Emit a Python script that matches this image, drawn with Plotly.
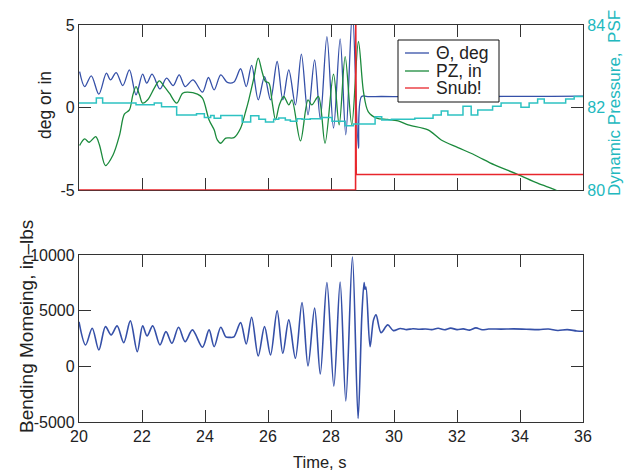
import plotly.graph_objects as go

# ---------------- data ----------------
theta_t = [20.02, 20.18, 20.39, 20.63, 20.87, 21.00, 21.18, 21.39, 21.60, 21.81, 22.02, 22.15, 22.32, 22.57,
           22.78, 22.99, 23.18, 23.37, 23.62, 23.92, 24.11, 24.29, 24.50, 24.71, 24.92, 25.13, 25.31, 25.48,
           25.69, 25.89, 26.08, 26.29, 26.47, 26.66, 26.87, 27.06, 27.27, 27.48, 27.66, 27.87, 28.08, 28.29,
           28.47, 28.68, 28.87, 28.97, 29.20, 29.6, 30.2, 31.0, 32.0, 33.0, 34.0, 35.0, 36.0]
theta_v = [2.18, 1.27, 1.92, 0.81, 2.08, 1.68, 2.12, 1.33, 2.28, 0.77, 2.02, 1.48, 2.02, 1.13,
           1.78, 1.33, 1.98, 1.27, 1.68, 0.93, 1.82, 1.07, 1.98, 1.52, 1.55, 2.35, 1.27, 2.55,
           0.47, 1.88, 0.47, 2.79, 0.47, 2.28, 0.16, 3.24, -0.44, 2.89, -0.68, 4.30, -1.25, 4.16,
           -1.65, 5.8, -2.46, 0.67, 0.66, 0.67, 0.66, 0.67, 0.68, 0.67, 0.68, 0.68, 0.69]

pz_t = [20.02, 20.18, 20.32, 20.53, 20.65, 20.84, 21.08, 21.29, 21.44, 21.60, 21.71, 21.81, 21.92, 22.02,
        22.18, 22.39, 22.55, 22.71, 22.87, 23.10, 23.29, 23.44, 23.76, 23.92, 24.13, 24.29, 24.39, 24.50,
        24.66, 24.92, 25.13, 25.29, 25.39, 25.55, 25.69, 25.81, 25.92, 26.03, 26.13, 26.24, 26.36, 26.50,
        26.66, 26.76, 27.03, 27.27, 27.39, 27.60, 27.81, 28.08, 28.26, 28.45, 28.66, 28.87, 29.03, 29.18,
        29.45, 29.8, 30.13, 30.45, 31.08, 31.50, 32.03, 32.56, 33.19, 33.92, 34.56, 35.13, 35.6]
pz_v = [-2.30, -1.90, -2.10, -1.76, -2.26, -3.51, -2.87, -1.65, -0.40, -0.14, 0.77, 1.27, 0.77, 0.27,
        0.47, 1.18, 1.62, 1.27, 0.87, 0.27, 0.87, 0.93, 0.81, 0.57, -0.75, -1.35, -1.96, -2.16,
        -1.85, -1.82, -1.25, -0.24, 0.47, 1.78, 2.99, 2.18, 1.58, 1.48, 0.36, -0.75, 0.16, 0.67,
        0.16, 0.47, -2.02, 0.47, 0.16, 0.67, -2.16, 2.02, -1.05, 3.09, -1.05, 4.0, 0.97, -0.24,
        -0.64, -0.72, -0.81, -1.05, -1.35, -1.96, -2.42, -2.87, -3.47, -4.04, -4.58, -4.99, -5.4]

snub_t = [20.0, 28.78, 28.785, 28.80, 36.0]
snub_v = [-5.0, -5.0, 6.0, -4.05, -4.05]

press_t = [20.0, 20.55, 20.75, 21.81, 22.39, 22.62, 23.10, 23.73, 23.98, 24.18, 24.29, 24.50, 25.18, 25.45,
           25.71, 25.92, 26.18, 26.34, 26.55, 26.71, 26.92, 27.08, 27.34, 27.71, 28.03, 28.45, 28.71, 29.40,
           29.61, 29.92, 30.66, 31.24, 31.50, 31.71, 32.19, 32.45, 32.66, 33.13, 33.40, 34.03, 34.29, 34.56,
           34.77, 35.45, 35.72, 36.0]
press_v = [82.11, 82.23, 82.11, 82.07, 82.11, 82.02, 81.82, 81.85, 81.76, 81.81, 81.74, 81.81, 81.65, 81.80,
           81.72, 81.65, 81.72, 81.75, 81.70, 81.67, 81.73, 81.72, 81.73, 81.76, 81.67, 81.56, 81.60, 81.78,
           81.70, 81.72, 81.74, 81.82, 81.92, 81.82, 82.03, 81.82, 81.94, 82.03, 82.11, 82.01, 82.11, 82.21,
           82.11, 82.21, 82.27, 82.27]

moment_t = [20.00, 20.21, 20.42, 20.63, 20.84, 21.02, 21.21, 21.42, 21.63, 21.85, 22.02, 22.16, 22.34, 22.57,
            22.76, 22.95, 23.16, 23.37, 23.60, 23.92, 24.13, 24.29, 24.50, 24.66, 24.78, 24.92, 25.13, 25.31,
            25.48, 25.69, 25.89, 26.08, 26.29, 26.47, 26.66, 26.87, 27.08, 27.27, 27.48, 27.66, 27.87, 28.09,
            28.29, 28.47, 28.68, 28.86, 28.98, 29.05, 29.08, 29.11, 29.24, 29.35, 29.43, 29.59, 29.80, 29.98,
            30.2, 30.4, 30.6, 30.8, 31.0, 31.2, 31.4, 31.6, 31.8, 32.0, 32.2, 32.4, 32.6, 32.8, 33.0, 33.4,
            33.8, 34.2, 34.6, 34.9, 35.2, 35.5, 35.8, 36.0]
moment_v = [4000, 1919, 3423, 1468, 3568, 2820, 3630, 2126, 4081, 1315, 3630, 2730, 3630, 1919,
            3117, 2072, 3513, 2216, 3270, 1712, 3270, 1766, 3513, 2650, 2600, 2650, 3928, 2009,
            4414, 928, 3568, 1018, 4982, 1171, 4171, 721, 5730, 27, 5225, -694, 7532, -1775,
            7568, -3099, 9820, -4685, 4622, 7532, 6900, 7117, 1766, 4171, 4622, 3027, 3721, 3207,
            3400, 3300, 3380, 3330, 3350, 3300, 3420, 3280, 3430, 3300, 3360, 3250, 3450, 3280, 3350, 3340,
            3360, 3330, 3300, 3350, 3220, 3300, 3180, 3150]

xticks = [20, 22, 24, 26, 28, 30, 32, 34, 36]
xtick_text = ["20", "22", "24", "26", "28", "30", "32", "34", "36"]
y1_ticks = [-5, 0, 5]
y1_text = ["-5", "0", "5"]
y2_ticks = [80, 82, 84]
y2_text = ["80", "82", "84"]
y3_ticks = [-5000, 0, 5000, 10000]
y3_text = ["-5000", "0", "5000", "10000"]

legend_names = ["Θ, deg", "PZ, in", "Snub!"]

# ---------------- styling ----------------
FONT = "Liberation Sans, Arial, Helvetica, sans-serif"
BLUE = "#3550a8"
GREEN = "#1b8a3c"
RED = "#e8262c"
CYAN = "#2ec2c2"
CYAN_T = "#22b8be"
AX = "#333333"
legend_colors = [BLUE, GREEN, RED]

fig = go.Figure()
fig.add_trace(go.Scatter(x=theta_t, y=theta_v, mode="lines", name=legend_names[0], showlegend=False,
                         line=dict(color=BLUE, width=1.3, shape="spline", smoothing=0.9),
                         xaxis="x", yaxis="y"))
fig.add_trace(go.Scatter(x=pz_t, y=pz_v, mode="lines", name=legend_names[1], showlegend=False,
                         line=dict(color=GREEN, width=1.3, shape="spline", smoothing=0.9),
                         xaxis="x", yaxis="y"))
fig.add_trace(go.Scatter(x=snub_t, y=snub_v, mode="lines", name=legend_names[2], showlegend=False,
                         line=dict(color=RED, width=1.6),
                         xaxis="x", yaxis="y"))
fig.add_trace(go.Scatter(x=press_t, y=press_v, mode="lines", showlegend=False,
                         line=dict(color=CYAN, width=1.5, shape="hv"),
                         xaxis="x", yaxis="y2"))
fig.add_trace(go.Scatter(x=moment_t, y=moment_v, mode="lines", showlegend=False,
                         line=dict(color=BLUE, width=1.6, shape="spline", smoothing=0.9),
                         xaxis="x2", yaxis="y3"))

common = dict(showgrid=False, zeroline=False, showline=True, linecolor=AX, linewidth=1.3,
              ticks="inside", ticklen=12, tickwidth=1.3, tickcolor=AX,
              tickfont=dict(family=FONT, size=16, color="#222"))

top_dom = [0.584, 1.0]
bot_dom = [0.0, 0.4207]

fig.update_layout(
    width=625, height=473,
    margin=dict(l=79, r=42, t=25, b=51),
    paper_bgcolor="white", plot_bgcolor="white",
    font=dict(family=FONT, size=16, color="#222"),
    xaxis=dict(common, domain=[0, 1], range=[20, 36], tickvals=xticks, showticklabels=False,
               mirror="ticks", anchor="y", layer="below traces"),
    yaxis=dict(common, domain=top_dom, range=[-5, 5], tickvals=y1_ticks, ticktext=y1_text,
               anchor="x", mirror=False),
    yaxis2=dict(common, overlaying="y", side="right", range=[80, 84], tickvals=y2_ticks, ticktext=y2_text,
                anchor="x", tickfont=dict(family=FONT, size=16, color=CYAN_T)),
    xaxis2=dict(common, domain=[0, 1], range=[20, 36], tickvals=xticks, ticktext=xtick_text,
                mirror="ticks", anchor="y3"),
    yaxis3=dict(common, domain=bot_dom, range=[-5000, 10000], tickvals=y3_ticks, ticktext=y3_text,
                mirror="ticks", anchor="x2"),
    showlegend=False,
)


# helpers: pixel -> paper coordinate (plot area spans x 79..583, y 25..422)
def px(x):
    return (x - 79) / 504


def py(y):
    return (422 - y) / 397


# legend box (MATLAB-style, compact rows)
fig.add_shape(type="rect", xref="paper", yref="paper", x0=px(398), x1=px(499), y0=py(102), y1=py(40),
              line=dict(color="#111", width=1), fillcolor="white", layer="above")
row_y = [53, 71, 88]
for name, col, ry in zip(legend_names, legend_colors, row_y):
    fig.add_shape(type="line", xref="paper", yref="paper", x0=px(405), x1=px(429), y0=py(ry), y1=py(ry),
                  line=dict(color=col, width=1.3), layer="above")
    fig.add_annotation(text=name, xref="paper", yref="paper", x=px(434), y=py(ry), showarrow=False,
                       xanchor="left", yanchor="middle", font=dict(family=FONT, size=17.5, color="#222"))

fig.add_annotation(text="deg or in", xref="paper", yref="paper", x=px(45), y=py(105),
                   textangle=-90, showarrow=False, xanchor="center", yanchor="middle",
                   font=dict(family=FONT, size=17.5, color="#222"))
fig.add_annotation(text="Bending Momeing, in–lbs", xref="paper", yref="paper", x=px(26),
                   y=py(327), textangle=-90, showarrow=False, xanchor="center", yanchor="middle",
                   font=dict(family=FONT, size=19, color="#222"))
fig.add_annotation(text="Dynamic Pressure,  PSF", xref="paper", yref="paper", x=px(614),
                   y=py(103), textangle=-90, showarrow=False, xanchor="center", yanchor="middle",
                   font=dict(family=FONT, size=17, color=CYAN_T))
fig.add_annotation(text="Time, s", xref="paper", yref="paper", x=px(319), y=py(462),
                   showarrow=False, xanchor="center", yanchor="middle",
                   font=dict(family=FONT, size=16.5, color="#222"))

# remove the browser's default 8px page margin so the figure sits at the window origin
fig.write_html("out.html", config={"displayModeBar": False},
               post_script="document.body.style.margin='0px';document.body.style.overflow='hidden';")
